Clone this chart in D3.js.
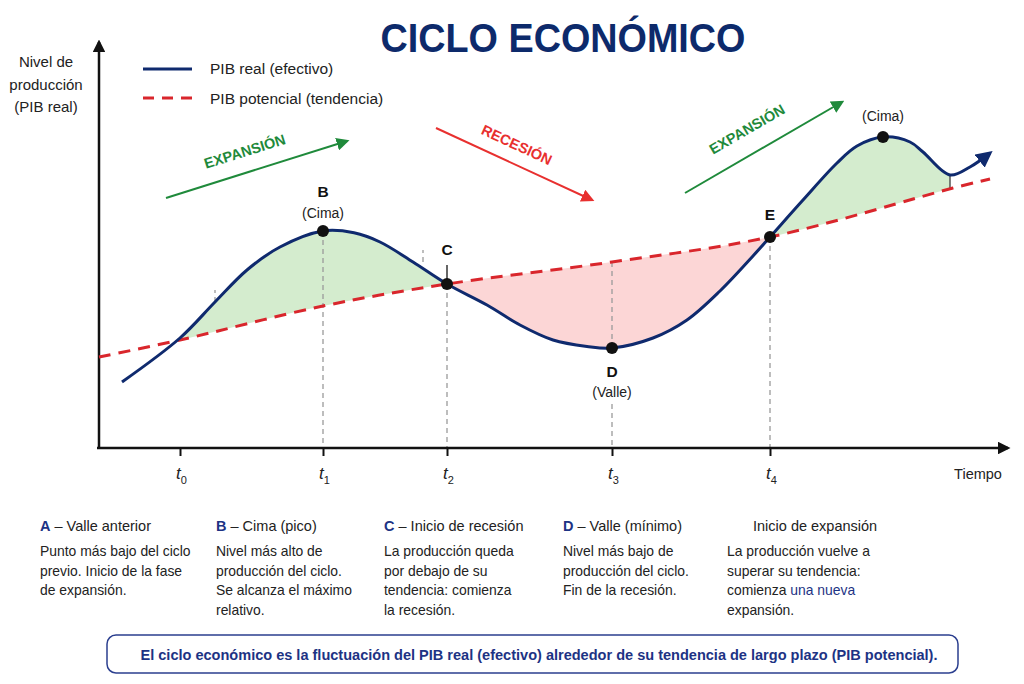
<!DOCTYPE html>
<html>
<head>
<meta charset="utf-8">
<script src="https://cdn.jsdelivr.net/npm/d3@7"></script>
<style>
  body { margin: 0; background: #fff; }
  text { font-family: "Liberation Sans", Arial, sans-serif; }
</style>
</head>
<body>
<svg id="chart"></svg>
<script>
// ---- data (time units / output level units) ----
var realTime  = [2.3, 8.1, 11.6, 14.8, 18.1, 22.4, 25.5, 28.1, 31.4, 34.8, 38.8, 42.1, 45.4, 48.8, 51.3,
                 55.4, 58.8, 62.1, 65.4, 67.1, 70.4, 73.8, 75.8, 78.4, 81.1, 82.4, 85.1, 87.1, 89.1];
var realLevel = [16.5, 27.5, 36.5, 44.5, 50.25, 54.25, 53.8, 51.5, 46.5, 41, 35.75, 30.75, 27, 25.4, 25,
                 27.5, 32, 39.25, 48, 52.75, 62, 71.25, 75.5, 77.75, 76.5, 74, 68.25, 70.25, 73.75];

var trendTime  = [0, 8.1, 22.4, 34.8, 51.3, 67.1, 85.4, 89.1];
var trendLevel = [22.75, 27, 35.5, 41, 46.5, 52.75, 65, 67.25];

var tickTimes  = [8.1, 22.4, 34.8, 51.3, 67.1];
var tickSubs   = ["0", "1", "2", "3", "4"];

var pointTimes = [22.4, 34.8, 51.3, 67.1, 78.4];
var pointNames = ["B", "C", "D", "E", ""];
var pointNotes = ["(Cima)", "", "(Valle)", "", "(Cima)"];

var phaseNames = ["EXPANSIÓN", "RECESIÓN", "EXPANSIÓN"];
var phaseFrom  = [[6.7, 62.5], [33.7, 80], [58.6, 63.75]];
var phaseTo    = [[24.8, 76.75], [49.3, 62], [74.3, 86.5]];

var noteKeys   = ["A", "B", "C", "D", ""];
var noteTitles = ["Valle anterior", "Cima (pico)", "Inicio de recesión", "Valle (mínimo)", "Inicio de expansión"];
var noteLines  = [
  ["Punto más bajo del ciclo", "previo. Inicio de la fase", "de expansión."],
  ["Nivel más alto de", "producción del ciclo.", "Se alcanza el máximo", "relativo."],
  ["La producción queda", "por debajo de su", "tendencia: comienza", "la recesión."],
  ["Nivel más bajo de", "producción del ciclo.", "Fin de la recesión."],
  ["La producción vuelve a", "superar su tendencia:", "comienza |una nueva", "expansión."]
];

var navy = "#0f2a6e", red = "#d9262c", green = "#1f8a3b", redArrow = "#e8302f", ink = "#222";

var svgWidth = 1024, svgHeight = 684;
var svg = d3.select("#chart").attr("width", svgWidth).attr("height", svgHeight);

var x = d3.scaleLinear().domain([0, 91]).range([99, 1009]);
var y = d3.scaleLinear().domain([0, 102]).range([448, 40]);

var real = realTime.map(function(t, i) { return [t, realLevel[i]]; });
var trend = trendTime.map(function(t, i) { return [t, trendLevel[i]]; });
function levelAt(t) { return realLevel[realTime.indexOf(t)]; }
function trendAt(t) {
  var i = d3.bisectLeft(trendTime, t);
  if (trendTime[i] === t) return trendLevel[i];
  var a = trendTime[i - 1], b = trendTime[i];
  return trendLevel[i - 1] + (trendLevel[i] - trendLevel[i - 1]) * (t - a) / (b - a);
}

var smooth = d3.curveCatmullRom.alpha(0.5);

// markers
var defs = svg.append("defs");
function marker(id, color, w) {
  defs.append("marker").attr("id", id)
    .attr("viewBox", "0 0 10 10").attr("refX", 8).attr("refY", 5)
    .attr("markerWidth", w).attr("markerHeight", w)
    .attr("orient", "auto")
    .append("path").attr("d", "M0,0 L10,5 L0,10 z").attr("fill", color);
}
marker("arrBlack", "#111", 5);
marker("arrNavy", navy, 5.5);
marker("arrGreen", green, 6.5);
marker("arrRed", redArrow, 6.5);

// clip regions
var aboveTrend = d3.area().x(d => x(d[0])).y0(0).y1(d => y(d[1])).curve(smooth);
var belowTrend = d3.area().x(d => x(d[0])).y0(svgHeight).y1(d => y(d[1])).curve(smooth);
defs.append("clipPath").attr("id", "clipAbove").append("path").attr("d", aboveTrend(trend));
defs.append("clipPath").attr("id", "clipBelow").append("path").attr("d", belowTrend(trend));
defs.append("clipPath").attr("id", "clipGreen").append("rect")
  .attr("x", x(5)).attr("y", 0).attr("width", x(85.1) - x(5)).attr("height", svgHeight);
defs.append("clipPath").attr("id", "clipRed").append("rect")
  .attr("x", x(34.8)).attr("y", 0).attr("width", x(67.1) - x(34.8)).attr("height", svgHeight);

var underReal = d3.area().x(d => x(d[0])).y0(svgHeight).y1(d => y(d[1])).curve(smooth);
var overReal = d3.area().x(d => x(d[0])).y0(0).y1(d => y(d[1])).curve(smooth);

svg.append("g").attr("clip-path", "url(#clipGreen)")
  .append("path").attr("d", underReal(real)).attr("clip-path", "url(#clipAbove)")
  .attr("fill", "#d4ecce");
svg.append("g").attr("clip-path", "url(#clipRed)")
  .append("path").attr("d", overReal(real)).attr("clip-path", "url(#clipBelow)")
  .attr("fill", "#fcd6d6");

// dashed guides
var guides = svg.append("g").attr("stroke", "#9a9a9a").attr("stroke-width", 1.3).attr("stroke-dasharray", "5,4");
[22.4, 34.8, 67.1].forEach(function(t) {
  guides.append("line").attr("x1", x(t)).attr("x2", x(t)).attr("y1", y(levelAt(t))).attr("y2", y(0));
});
guides.append("line").attr("x1", x(51.3)).attr("x2", x(51.3)).attr("y1", y(trendAt(51.3))).attr("y2", y(levelAt(51.3)));
guides.append("line").attr("x1", x(51.3)).attr("x2", x(51.3)).attr("y1", y(levelAt(51.3)) + 56).attr("y2", y(0));
guides.append("line").attr("x1", x(11.6)).attr("x2", x(11.6)).attr("y1", y(36.5)).attr("y2", y(39.5));
guides.append("line").attr("x1", x(32.4)).attr("x2", x(32.4)).attr("y1", y(46.5)).attr("y2", y(49.5));

svg.append("line").attr("x1", x(34.8)).attr("x2", x(34.8))
  .attr("y1", y(levelAt(34.8)) - 19).attr("y2", y(levelAt(34.8)))
  .attr("stroke", "#333").attr("stroke-width", 1.5);
svg.append("line").attr("x1", x(85.1)).attr("x2", x(85.1))
  .attr("y1", y(levelAt(85.1))).attr("y2", y(trendAt(85.1)))
  .attr("stroke", "#555").attr("stroke-width", 1.5);

// axes
var xAxis = d3.axisBottom(x).tickValues(tickTimes).tickFormat("").tickSizeInner(8).tickSizeOuter(0);
var xg = svg.append("g").attr("transform", `translate(0, ${y(0)})`).call(xAxis);
xg.select(".domain").remove();
xg.selectAll(".tick line").attr("stroke", "#111").attr("stroke-width", 2);

svg.append("line").attr("x1", x(0) - 2).attr("x2", x(90.9)).attr("y1", y(0)).attr("y2", y(0))
  .attr("stroke", "#111").attr("stroke-width", 2.5).attr("marker-end", "url(#arrBlack)");
svg.append("line").attr("x1", x(0)).attr("x2", x(0)).attr("y1", y(0) + 1).attr("y2", y(101.5))
  .attr("stroke", "#111").attr("stroke-width", 2.5).attr("marker-end", "url(#arrBlack)");

var tl = svg.append("g").selectAll("text").data(tickTimes).enter().append("text")
  .attr("x", d => x(d) - 4).attr("y", y(0) + 31)
  .attr("font-size", 17).attr("fill", ink);
tl.append("tspan").attr("font-style", "italic").text("t");
tl.append("tspan").attr("dy", 5).attr("font-size", 11).text((d, i) => tickSubs[i]);

svg.append("text").attr("x", 978).attr("y", y(0) + 31).attr("text-anchor", "middle")
  .attr("font-size", 14.5).attr("fill", ink).text("Tiempo");

var yl = svg.append("text").attr("text-anchor", "middle").attr("font-size", 15).attr("fill", ink);
["Nivel de", "producción", "(PIB real)"].forEach(function(s, i) {
  yl.append("tspan").attr("x", 46).attr("y", 67 + i * 22.5).text(s);
});

// lines
var line = d3.line().x(d => x(d[0])).y(d => y(d[1])).curve(smooth);
svg.append("path").attr("d", line(trend)).attr("fill", "none")
  .attr("stroke", red).attr("stroke-width", 3).attr("stroke-dasharray", "12,8");
svg.append("path").attr("d", line(real)).attr("fill", "none")
  .attr("stroke", navy).attr("stroke-width", 3).attr("marker-end", "url(#arrNavy)");

// key points
var labelDy = [[-34, -13], [-29, 0], [29, 49], [-17, 0], [0, -16]];
svg.append("g").selectAll("circle").data(pointTimes).enter().append("circle")
  .attr("cx", d => x(d)).attr("cy", d => y(levelAt(d))).attr("r", 6).attr("fill", "#111");
pointTimes.forEach(function(t, i) {
  if (pointNames[i]) {
    svg.append("text").attr("x", x(t)).attr("y", y(levelAt(t)) + labelDy[i][0])
      .attr("text-anchor", "middle").attr("font-size", 15.5).attr("font-weight", "bold")
      .attr("fill", "#111").text(pointNames[i]);
  }
  if (pointNotes[i]) {
    svg.append("text").attr("x", x(t)).attr("y", y(levelAt(t)) + labelDy[i][1])
      .attr("text-anchor", "middle").attr("font-size", 14).attr("fill", ink).text(pointNotes[i]);
  }
});

// phase arrows
var phaseColors = [green, redArrow, green];
var phaseMarkers = ["arrGreen", "arrRed", "arrGreen"];
var phaseOffset = [-14, -16, -16];
phaseNames.forEach(function(name, i) {
  var x1 = x(phaseFrom[i][0]), y1 = y(phaseFrom[i][1]), x2 = x(phaseTo[i][0]), y2 = y(phaseTo[i][1]);
  svg.append("line").attr("x1", x1).attr("y1", y1).attr("x2", x2).attr("y2", y2)
    .attr("stroke", phaseColors[i]).attr("stroke-width", 2).attr("marker-end", `url(#${phaseMarkers[i]})`);
  var ang = Math.atan2(y2 - y1, x2 - x1);
  var mx = (x1 + x2) / 2 + Math.sin(ang) * -phaseOffset[i] - 6;
  var my = (y1 + y2) / 2 + Math.cos(ang) * phaseOffset[i];
  svg.append("text").attr("transform", `translate(${mx},${my}) rotate(${ang * 180 / Math.PI})`)
    .attr("text-anchor", "middle").attr("font-size", 14.5).attr("font-weight", "bold")
    .attr("fill", phaseColors[i]).text(name);
});

// title and legend
svg.append("text").attr("x", 563).attr("y", 52).attr("text-anchor", "middle")
  .attr("font-size", 40).attr("font-weight", "bold").attr("fill", "#0d2a6b")
  .attr("textLength", 365).attr("lengthAdjust", "spacingAndGlyphs").text("CICLO ECONÓMICO");

svg.append("line").attr("x1", 143).attr("x2", 192).attr("y1", 69).attr("y2", 69)
  .attr("stroke", navy).attr("stroke-width", 3);
svg.append("text").attr("x", 210).attr("y", 74).attr("font-size", 15.5).attr("fill", ink).text("PIB real (efectivo)");
svg.append("line").attr("x1", 143).attr("x2", 192).attr("y1", 98).attr("y2", 98)
  .attr("stroke", red).attr("stroke-width", 3).attr("stroke-dasharray", "11,8");
svg.append("text").attr("x", 210).attr("y", 104).attr("font-size", 15.5).attr("fill", ink).text("PIB potencial (tendencia)");

// notes below chart
var noteX = [40, 216, 384, 563, 727];
var noteHeadX = [40, 216, 384, 563, 753];
noteKeys.forEach(function(k, i) {
  var h = svg.append("text").attr("x", noteHeadX[i]).attr("y", 531).attr("font-size", 14.5).attr("fill", ink);
  if (k) {
    h.append("tspan").attr("font-weight", "bold").attr("fill", "#1d3384").text(k);
    h.append("tspan").text(" – " + noteTitles[i]);
  } else {
    h.append("tspan").text(noteTitles[i]);
  }
  noteLines[i].forEach(function(s, j) {
    var t = svg.append("text").attr("x", noteX[i]).attr("y", 556 + j * 19.5).attr("font-size", 13.9).attr("fill", ink);
    var parts = s.split("|");
    t.append("tspan").text(parts[0]);
    if (parts[1]) t.append("tspan").attr("fill", "#1d3384").text(parts[1]);
  });
});

svg.append("rect").attr("x", 107).attr("y", 635).attr("width", 851).attr("height", 38).attr("rx", 9)
  .attr("fill", "#fff").attr("stroke", "#2b3f8f").attr("stroke-width", 1.5);
svg.append("text").attr("x", 539).attr("y", 660).attr("text-anchor", "middle")
  .attr("font-size", 14).attr("font-weight", "bold").attr("fill", "#1d3384")
  .attr("textLength", 797).attr("lengthAdjust", "spacingAndGlyphs")
  .text("El ciclo económico es la fluctuación del PIB real (efectivo) alrededor de su tendencia de largo plazo (PIB potencial).");
</script>
</body>
</html>
